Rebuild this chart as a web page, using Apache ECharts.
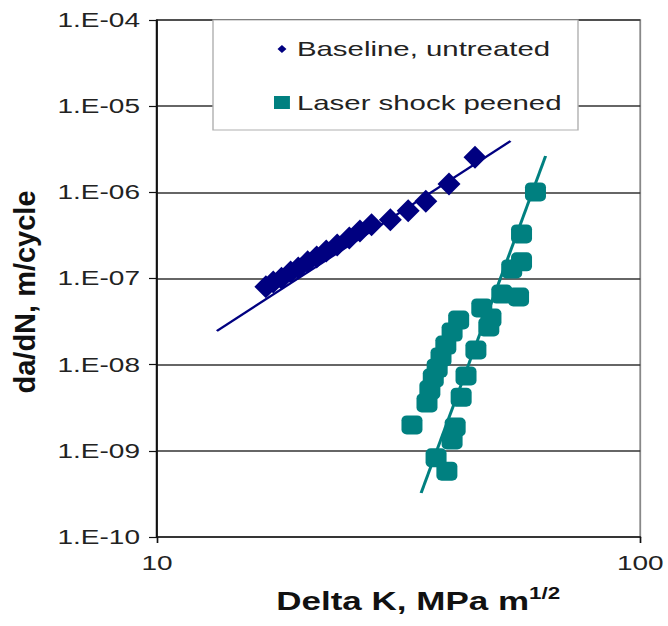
<!DOCTYPE html>
<html>
<head>
<meta charset="utf-8">
<script src="https://cdn.jsdelivr.net/npm/echarts@6/dist/echarts.min.js"></script>
<style>
html,body{margin:0;padding:0;background:#fff;overflow:hidden;}
#c{width:477.142857px;height:626px;transform:scaleX(1.4);transform-origin:0 0;}
</style>
</head>
<body>
<div id="c"></div>
<script>
// ---- data ----
const dkBase = [16.8, 17.4, 18.1, 18.9, 19.6, 20.5, 21.4, 22.4, 23.6, 25.0, 26.3, 27.8, 30.4, 33.1, 36.0, 40.2, 45.5];
const rateBase = [8.0e-8, 9.1e-8, 1.01e-7, 1.19e-7, 1.32e-7, 1.56e-7, 1.78e-7, 2.09e-7, 2.45e-7, 2.95e-7, 3.56e-7, 4.2e-7, 4.8e-7, 6.1e-7, 7.9e-7, 1.25e-6, 2.55e-6];
const dkLsp = [33.7, 36.2, 36.7, 37.3, 38.0, 38.7, 39.6, 40.8, 42.1, 37.8, 39.8, 40.8, 41.4, 42.6, 43.6, 45.7, 47.0, 49.1, 48.6, 51.7, 56.0, 54.2, 56.8, 56.8, 60.7];
const rateLsp = [2.0e-9, 3.6e-9, 5.1e-9, 7.0e-9, 9.1e-9, 1.23e-8, 1.69e-8, 2.39e-8, 3.3e-8, 8.3e-10, 5.8e-10, 1.34e-9, 1.89e-9, 4.2e-9, 7.4e-9, 1.48e-8, 4.55e-8, 3.48e-8, 2.74e-8, 6.6e-8, 6.1e-8, 1.29e-7, 1.56e-7, 3.29e-7, 1.01e-6];
const dkBaseFit = [13.3, 53.9];
const rateBaseFit = [2.46e-8, 3.94e-6];
const dkLspFit = [35.2, 63.7];
const rateLspFit = [3.24e-10, 2.64e-6];
const seriesNames = ['Baseline, untreated', 'Laser shock peened'];
const xTicks = [10, 100];
const yTicks = [1e-10, 1e-9, 1e-8, 1e-7, 1e-6, 1e-5, 1e-4];

// ---- layout ----
const S = 1.4;
const FONT = '"Liberation Sans", Arial, sans-serif';
const pairs = (xs, ys) => xs.map((x, i) => [x, ys[i]]);

const chart = echarts.init(document.getElementById('c'), null, {renderer: 'svg'});
const diamondIcon = 'path://M0,0M11.4,13M5.7,2.5L8.9,6.5L5.7,10.5L2.5,6.5Z';

chart.setOption({
  animation: false,
  backgroundColor: '#fff',
  grid: {left: 157 / S, width: (642 - 157) / S, top: 20, height: 517, show: true, borderColor: '#888', borderWidth: 1.3},
  xAxis: {
    type: 'log', logBase: 10, min: xTicks[0], max: xTicks[xTicks.length - 1], splitNumber: 1,
    axisLine: {show: true, lineStyle: {color: '#111', width: 1.5}},
    axisTick: {show: true, inside: false, length: 6, lineStyle: {color: '#111', width: 1.2}},
    splitLine: {show: false}, minorTick: {show: false},
    axisLabel: {margin: 16, fontSize: 20, color: '#222', fontFamily: FONT, formatter: v => String(Math.round(v))},
    name: '{a|Delta K, MPa m}{s|1/2}', nameLocation: 'middle', nameGap: 48,
    nameTextStyle: {padding: [0, 0, 0, 28], rich: {
      a: {fontSize: 25, fontWeight: 'bold', fontFamily: FONT, color: '#111', lineHeight: 28, verticalAlign: 'bottom'},
      s: {fontSize: 16, fontWeight: 'bold', fontFamily: FONT, color: '#111', lineHeight: 16, verticalAlign: 'top'}
    }}
  },
  yAxis: {
    type: 'log', logBase: 10, min: yTicks[0], max: yTicks[yTicks.length - 1], splitNumber: 6,
    axisLine: {show: true, lineStyle: {color: '#111', width: 1.5}},
    axisTick: {show: true, inside: false, length: 8 / S, lineStyle: {color: '#111', width: 1.2}},
    splitLine: {show: true, showMinLine: false, showMaxLine: false, lineStyle: {color: '#333', width: 1.5}},
    minorTick: {show: false},
    axisLabel: {margin: 17 / S, fontSize: 20, color: '#222', fontFamily: FONT,
      formatter: v => { const e = Math.round(Math.log10(v)); return '1.E-' + String(-e).padStart(2, '0'); }}
  },
  legend: {
    data: [{name: seriesNames[0], icon: diamondIcon}, {name: seriesNames[1], icon: 'rect'}],
    orient: 'vertical', left: 152.1, top: 20, padding: [18.5, 0, 0, 43.6], itemGap: 32.5,
    itemWidth: 11.4, itemHeight: 13, selectedMode: false, z: 5,
    itemStyle: {opacity: 1},
    textStyle: {fontSize: 21, color: '#222', fontFamily: FONT}
  },
  graphic: {elements: [
    {type: 'rect', z: 4, shape: {x: 213 / S, y: 20, width: (578 - 213) / S, height: 110},
     style: {fill: '#fff', stroke: '#b0b0b0', lineWidth: 1}},
    {type: 'text', z: 5, x: 25 / S, y: 292, rotation: Math.PI / 2, scaleY: 1 / S,
     style: {text: 'da/dN, m/cycle', font: 'bold 29px ' + FONT, fill: '#111', align: 'center', verticalAlign: 'middle'}}
  ]},
  series: [
    {name: seriesNames[0] + ' fit', type: 'line', data: pairs(dkBaseFit, rateBaseFit), showSymbol: false, symbol: 'none',
     lineStyle: {color: '#000080', width: 2}, z: 2, silent: true},
    {name: seriesNames[1] + ' fit', type: 'line', data: pairs(dkLspFit, rateLspFit), showSymbol: false, symbol: 'none',
     lineStyle: {color: '#008080', width: 2.2}, z: 2, silent: true},
    {name: seriesNames[0], type: 'scatter', data: pairs(dkBase, rateBase), symbol: 'diamond', symbolSize: [23 / S, 23],
     itemStyle: {color: '#000080', opacity: 1}, z: 3},
    {name: seriesNames[1], type: 'scatter', data: pairs(dkLsp, rateLsp), symbol: 'roundRect', symbolSize: [21 / S, 19],
     itemStyle: {color: '#008080', opacity: 1}, z: 3}
  ]
});
</script>
</body>
</html>
